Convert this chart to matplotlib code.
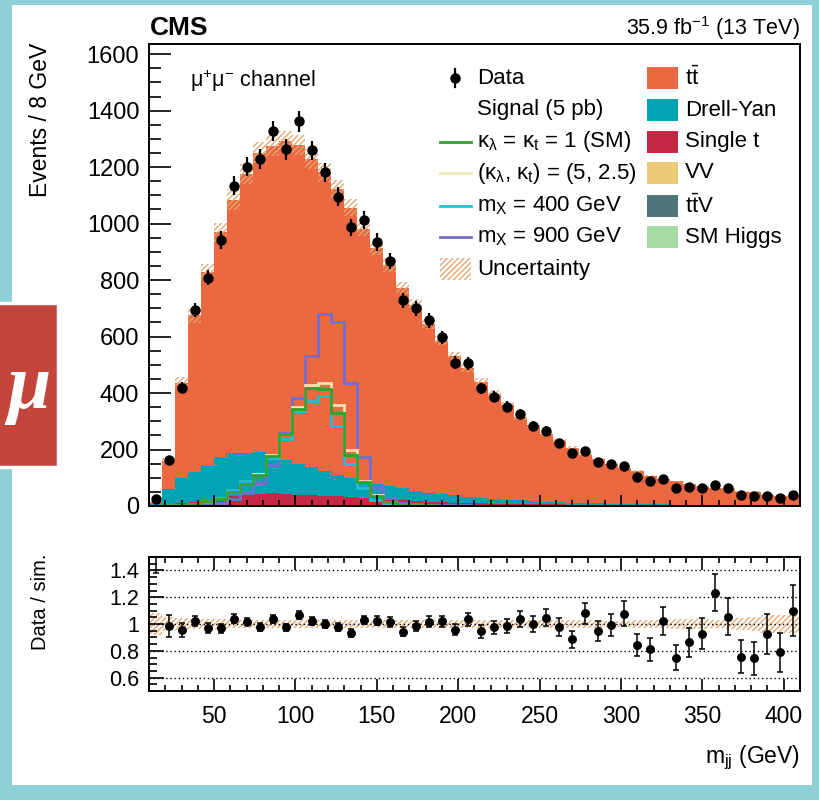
import numpy as np
import matplotlib
matplotlib.use("Agg")
import matplotlib.pyplot as plt
from matplotlib.patches import Rectangle
from matplotlib.lines import Line2D
from matplotlib.ticker import MultipleLocator

plt.rcParams["font.family"] = ["Liberation Sans", "DejaVu Sans"]
plt.rcParams["mathtext.fontset"] = "custom"
plt.rcParams["mathtext.rm"] = "Liberation Sans"
plt.rcParams["mathtext.it"] = "Liberation Sans:italic"
plt.rcParams["mathtext.bf"] = "Liberation Sans:bold"
plt.rcParams["hatch.linewidth"] = 1.0

# ── Binning: m_jj from 10 to 410 GeV in 8 GeV bins ────────────────────────────
BIN_LO, BIN_W, NBINS = 10, 8, 50

# ── Data (events / bin) ───────────────────────────────────────────────────────
data = [25, 162, 419, 694, 809, 942, 1134, 1202, 1229, 1328,
        1263, 1363, 1259, 1181, 1095, 987, 1013, 935, 867, 729,
        700, 657, 597, 508, 505, 417, 387, 352, 325, 285,
        267, 223, 187, 196, 155, 148, 142, 103, 87, 97,
        64, 66, 65, 76, 63, 38, 37, 37, 28, 38]
data_err = [5, 13, 20, 26, 28, 31, 34, 35, 35, 36,
            36, 37, 35, 34, 33, 31, 32, 31, 29, 27,
            26, 26, 24, 23, 22, 20, 20, 19, 18, 17,
            16, 15, 14, 14, 12, 12, 12, 10, 9, 10,
            8, 8, 8, 9, 8, 6, 6, 6, 5, 6]

# ── Backgrounds ───────────────────────────────────────────────────────────────
tt = [6, 100, 336, 553, 684, 796, 898, 988, 1061, 1092,
      1128, 1128, 1091, 1058, 1011, 958, 895, 836, 784, 711,
      657, 598, 543, 494, 455, 412, 372, 334, 295, 269,
      240, 215, 195, 171, 155, 141, 125, 116, 102, 90,
      82, 73, 66, 59, 57, 47, 47, 37, 34, 33]
dy = [6, 55, 90, 107, 123, 145, 153, 149, 147, 140,
      122, 109, 100, 88, 77, 68, 60, 53, 48, 42,
      37, 32, 28, 25, 22, 19, 17, 15, 13, 11,
      10, 9, 8, 7, 6, 5, 5, 4, 3, 3,
      3, 2, 2, 2, 2, 2, 1, 1, 1, 1]
single_t = [1, 4, 8, 12, 18, 24, 30, 36, 39, 40,
            38, 36, 34, 32, 30, 27, 24, 21, 19, 17,
            15, 13, 12, 10, 9, 8, 7, 6, 5, 5,
            4, 4, 3, 3, 3, 2, 2, 2, 2, 2,
            1, 1, 1, 1, 1, 1, 1, 1, 1, 1]
vv = [0.5, 1, 1.5, 2, 2.5, 3, 3, 3, 3, 3,
      3, 3, 3, 2.5, 2.5, 2.5, 2, 2, 2, 2,
      1.5, 1.5, 1.5, 1.5, 1, 1, 1, 1, 1, 1,
      1, 1, 0.5, 0.5, 0.5, 0.5, 0.5, 0.5, 0.5, 0.5,
      0.5, 0.5, 0.5, 0.5, 0.5, 0.5, 0.5, 0.5, 0.5, 0.5]
ttv = [0.1, 0.2, 0.3, 0.4, 0.5, 0.6, 0.7, 0.8, 0.8, 0.9,
       0.9, 0.9, 0.9, 0.9, 0.9, 0.8, 0.8, 0.8, 0.7, 0.7,
       0.7, 0.6, 0.6, 0.6, 0.5, 0.5, 0.5, 0.5, 0.4, 0.4,
       0.4, 0.4, 0.3, 0.3, 0.3, 0.3, 0.3, 0.3, 0.2, 0.2,
       0.2, 0.2, 0.2, 0.2, 0.2, 0.2, 0.1, 0.1, 0.1, 0.1]
sm_higgs = [0.0, 0.1, 0.1, 0.2, 0.2, 0.3, 0.3, 0.4, 0.4, 0.5,
            0.5, 0.5, 0.5, 0.4, 0.4, 0.4, 0.3, 0.3, 0.3, 0.3,
            0.2, 0.2, 0.2, 0.2, 0.2, 0.1, 0.1, 0.1, 0.1, 0.1,
            0.1, 0.1, 0.1, 0.1, 0.1, 0.1, 0.1, 0.1, 0.1, 0.1,
            0.1, 0.1, 0.1, 0.1, 0.1, 0.1, 0.1, 0.1, 0.1, 0.1]
unc_rel = [0.08, 0.05, 0.045, 0.04, 0.035, 0.035, 0.033, 0.03, 0.03, 0.03,
           0.028, 0.028, 0.028, 0.028, 0.028, 0.028, 0.028, 0.028, 0.028, 0.028,
           0.028, 0.028, 0.028, 0.028, 0.028, 0.03, 0.03, 0.03, 0.03, 0.03,
           0.03, 0.03, 0.032, 0.032, 0.032, 0.025, 0.025, 0.028, 0.03, 0.03,
           0.035, 0.035, 0.04, 0.03, 0.04, 0.045, 0.05, 0.07, 0.07, 0.07]

# ── Signals (5 pb) ────────────────────────────────────────────────────────────
sig_sm = [0, 2, 4, 8, 16, 26, 48, 78, 110, 178,
          255, 344, 419, 414, 330, 182, 85, 36, 14, 6,
          3, 2, 1, 1, 1, 0, 0, 0, 0, 0,
          0, 0, 0, 0, 0, 0, 0, 0, 0, 0,
          0, 0, 0, 0, 0, 0, 0, 0, 0, 0]
sig_bsm = [0, 2, 4, 8, 16, 26, 48, 78, 112, 180,
           254, 349, 428, 435, 357, 199, 89, 38, 15, 6,
           3, 2, 1, 1, 1, 0, 0, 0, 0, 0,
           0, 0, 0, 0, 0, 0, 0, 0, 0, 0,
           0, 0, 0, 0, 0, 0, 0, 0, 0, 0]
sig_mx400 = [0, 1, 3, 6, 14, 30, 58, 90, 114, 171,
             237, 336, 371, 389, 285, 148, 62, 22, 7, 3,
             1, 1, 0, 0, 0, 0, 0, 0, 0, 0,
             0, 0, 0, 0, 0, 0, 0, 0, 0, 0,
             0, 0, 0, 0, 0, 0, 0, 0, 0, 0]
sig_mx900 = [0, 0, 1, 2, 5, 12, 25, 45, 82, 145,
             258, 381, 531, 679, 650, 435, 172, 66, 28, 12,
             6, 4, 3, 2, 2, 1, 1, 1, 1, 1,
             1, 1, 1, 1, 1, 1, 1, 1, 1, 1,
             1, 1, 1, 0, 0, 0, 0, 0, 0, 0]

# ── Ratio panel ───────────────────────────────────────────────────────────────
ratio = [1.75, 0.985, 0.955, 1.023, 0.970, 0.968, 1.040, 1.018, 0.978, 1.038,
         0.975, 1.065, 1.023, 0.998, 0.975, 0.933, 1.030, 1.023, 1.015, 0.943,
         0.983, 1.018, 1.020, 0.958, 1.035, 0.945, 0.975, 0.988, 1.035, 0.998,
         1.048, 0.978, 0.885, 1.080, 0.948, 0.993, 1.078, 0.843, 0.810, 1.025,
         0.748, 0.863, 0.928, 1.235, 1.055, 0.755, 0.745, 0.925, 0.788, 1.098]
ratio_err = [0.37, 0.08, 0.05, 0.04, 0.035, 0.033, 0.031, 0.029, 0.028, 0.028,
             0.028, 0.029, 0.029, 0.029, 0.03, 0.03, 0.032, 0.033, 0.034, 0.035,
             0.037, 0.04, 0.042, 0.043, 0.047, 0.049, 0.05, 0.053, 0.059, 0.059,
             0.064, 0.065, 0.065, 0.077, 0.076, 0.082, 0.09, 0.083, 0.087, 0.104,
             0.093, 0.106, 0.115, 0.14, 0.137, 0.123, 0.122, 0.152, 0.147, 0.19]

# ── Styles ────────────────────────────────────────────────────────────────────
BKG = [  # bottom → top of the stack
    ("SM Higgs", sm_higgs, "#A6DBA6"),
    (r"$\mathrm{t\bar{t}V}$", ttv, "#4F757A"),
    ("VV", vv, "#EBCB78"),
    ("Single t", single_t, "#C42844"),
    ("Drell-Yan", dy, "#00A2B3"),
    (r"$\mathrm{t\bar{t}}$", tt, "#EB6841"),
]
SIGNALS = [  # legend order
    (r"$\mathrm{\kappa_{\lambda}}$ = $\mathrm{\kappa_{t}}$ = 1 (SM)", sig_sm, "#2EA12E"),
    (r"($\mathrm{\kappa_{\lambda}}$, $\mathrm{\kappa_{t}}$) = (5, 2.5)", sig_bsm, "#EFE5B0"),
    (r"m$_\mathrm{X}$ = 400 GeV", sig_mx400, "#23BCD6"),
    (r"m$_\mathrm{X}$ = 900 GeV", sig_mx900, "#6F6FD2"),
]
HATCH_COL = "#E2A873"
W, H = 820, 800


def fx(px):
    return px / W


def fy(py):
    return 1 - py / H


edges = BIN_LO + BIN_W * np.arange(NBINS + 1)
centers = 0.5 * (edges[:-1] + edges[1:])

fig = plt.figure(figsize=(W / 100, H / 100), dpi=100, facecolor="#8DD0D8")
fig.add_artist(Rectangle((fx(12), fy(785)), fx(812) - fx(12), fy(5) - fy(785),
                         transform=fig.transFigure, facecolor="white",
                         edgecolor="none", zorder=-5))

ax = fig.add_axes([fx(149), fy(506), fx(800) - fx(149), fy(44) - fy(506)])
rax = fig.add_axes([fx(149), fy(691), fx(800) - fx(149), fy(557) - fy(691)])

# stacked backgrounds
base = np.zeros(NBINS)
for _, vals, col in BKG:
    top = base + np.asarray(vals, float)
    ax.stairs(top, edges, baseline=base, fill=True, color=col, lw=0)
    base = top
mc_total = base

# MC uncertainty band
lo = mc_total * (1 - np.asarray(unc_rel))
hi = mc_total * (1 + np.asarray(unc_rel))
ax.fill_between(edges, np.append(lo, lo[-1]), np.append(hi, hi[-1]), step="post",
                facecolor="none", edgecolor=HATCH_COL, hatch="//////", linewidth=0)

# signals (SM drawn last, on top)
for _, vals, col in [SIGNALS[3], SIGNALS[2], SIGNALS[1], SIGNALS[0]]:
    ax.stairs(vals, edges, color=col, lw=2.0)

ax.errorbar(centers, data, yerr=data_err, fmt="o", color="black", ms=6.5,
            elinewidth=1.6, capsize=0, zorder=5)

ax.set_xlim(edges[0], edges[-1])
ax.set_ylim(0, 1636)
ax.yaxis.set_major_locator(MultipleLocator(200))
ax.yaxis.set_minor_locator(MultipleLocator(50))
ax.xaxis.set_major_locator(MultipleLocator(50))
ax.xaxis.set_minor_locator(MultipleLocator(10))
ax.tick_params(axis="y", which="major", direction="in", length=16, width=1.2,
               labelsize=17, pad=7)
ax.tick_params(axis="y", which="minor", direction="in", length=8.5, width=1.2)
ax.tick_params(axis="x", which="major", direction="in", length=8, width=1.2,
               labelbottom=False)
ax.tick_params(axis="x", which="minor", direction="in", length=4.5, width=1.2)
for sp in ax.spines.values():
    sp.set_linewidth(1.4)

ax.text(0.063, 0.92, r"$\mathrm{\mu^{+}\mu^{-}}$ channel", transform=ax.transAxes,
        fontsize=15.5, va="center", ha="left")

# ── Ratio panel ───────────────────────────────────────────────────────────────
ones = np.ones(NBINS)
rlo = ones - np.asarray(unc_rel)
rhi = ones + np.asarray(unc_rel)
rax.fill_between(edges, np.append(rlo, rlo[-1]), np.append(rhi, rhi[-1]), step="post",
                 facecolor="none", edgecolor=HATCH_COL, hatch="//////", linewidth=0)
for yv in [0.6, 0.8, 1.0, 1.2, 1.4]:
    rax.axhline(yv, color="black", lw=1.0, ls=(0, (1, 2)), zorder=1)
rax.errorbar(centers, ratio, yerr=ratio_err, fmt="o", color="black", ms=5.4,
             elinewidth=1.1, capsize=2.2, capthick=1.1, zorder=5)
rax.set_xlim(edges[0], edges[-1])
rax.set_ylim(0.5, 1.5)
rax.set_yticks([0.6, 0.8, 1.0, 1.2, 1.4])
rax.set_yticklabels(["0.6", "0.8", "1", "1.2", "1.4"])
rax.yaxis.set_minor_locator(MultipleLocator(0.05))
rax.xaxis.set_major_locator(MultipleLocator(50))
rax.xaxis.set_minor_locator(MultipleLocator(10))
rax.tick_params(axis="y", which="major", direction="in", length=11, width=1.2,
                labelsize=15.5, pad=7)
rax.tick_params(axis="y", which="minor", direction="in", length=5.5, width=1.2)
rax.tick_params(axis="x", which="major", direction="in", length=9, width=1.2,
                top=True, labelsize=16.5, pad=10)
rax.tick_params(axis="x", which="minor", direction="in", length=4.5, width=1.2, top=True)
for sp in rax.spines.values():
    sp.set_linewidth(1.4)

# ── Labels ────────────────────────────────────────────────────────────────────
fig.text(fx(150), fy(35), "CMS", fontsize=19, fontweight="bold", ha="left", va="baseline")
fig.text(fx(800), fy(35), r"35.9 fb$^{\mathregular{-1}}$ (13 TeV)", fontsize=15.5,
         ha="right", va="baseline")
fig.text(fx(41), fy(43), "Events / 8 GeV", rotation=90, fontsize=16.5, ha="center", va="top")
fig.text(fx(41), fy(553), "Data / sim.", rotation=90, fontsize=14.5, ha="center", va="top")
fig.text(fx(800), fy(758), r"m$_\mathrm{jj}$ (GeV)", fontsize=16.5, ha="right", va="center")

# ── Legend (drawn by hand, ROOT style) ────────────────────────────────────────
rows = [78, 110, 142, 173, 206, 237, 269]
fig.add_artist(Line2D([fx(455)], [fy(rows[0])], marker="o", color="black", ms=6.5,
                      transform=fig.transFigure))
fig.add_artist(Line2D([fx(455), fx(455)], [fy(rows[0] - 9), fy(rows[0] + 9)],
                      color="black", lw=1.6, transform=fig.transFigure))
fig.text(fx(477), fy(rows[0]), "Data", fontsize=16, va="center")
fig.text(fx(477), fy(rows[1]), "Signal (5 pb)", fontsize=16, va="center")
for (lab, _, col), r in zip(SIGNALS, rows[2:6]):
    fig.add_artist(Line2D([fx(440), fx(471)], [fy(r), fy(r)], color=col, lw=2.0,
                          transform=fig.transFigure))
    fig.text(fx(477), fy(r), lab, fontsize=16, va="center")
fig.add_artist(Rectangle((fx(440), fy(rows[6] + 11)), fx(471) - fx(440), fy(0) - fy(22),
                         transform=fig.transFigure, facecolor="none", edgecolor=HATCH_COL,
                         hatch="//////", lw=0))
fig.text(fx(477), fy(rows[6]), "Uncertainty", fontsize=16, va="center")

for (lab, _, col), r in zip(BKG[::-1], rows[:6]):
    fig.add_artist(Rectangle((fx(647), fy(r + 11)), fx(678) - fx(647), fy(0) - fy(22),
                             transform=fig.transFigure, facecolor=col, edgecolor="none"))
    fig.text(fx(685), fy(r), lab, fontsize=16, va="center")

# ── Slide badge on the left ───────────────────────────────────────────────────
fig.add_artist(Rectangle((fx(-5), fy(467)), fx(63), fy(303) - fy(467),
                         transform=fig.transFigure, facecolor="#C3453B",
                         edgecolor="white", lw=2.5, zorder=3))
fig.text(fx(29), fy(408), "μ", fontsize=56, color="white", style="italic",
         fontweight="bold", family="Liberation Serif", ha="center", va="baseline",
         zorder=4)

fig.savefig("out.png", dpi=100)
